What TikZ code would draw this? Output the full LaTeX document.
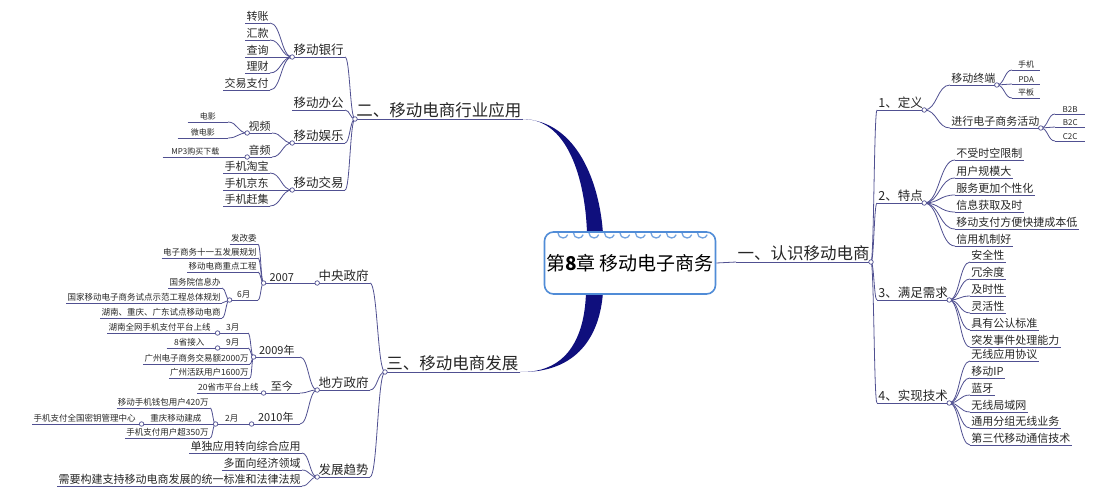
\documentclass[tikz,border=0pt]{standalone}
\usepackage{fontspec}
\setmainfont{Noto Sans CJK SC}
\usetikzlibrary{calc}
\definecolor{lc}{RGB}{80,80,145}
\definecolor{nv}{RGB}{15,15,125}
\definecolor{bx}{RGB}{80,140,215}
\tikzset{ul/.style={draw=lc,line width=0.8pt}, link/.style={draw=lc,line width=0.8pt},
 t/.style={inner sep=1.2pt,text=black!85},
 fa/.style={t,font=\fontsize{16.5}{18}\selectfont},
 fb/.style={t,font=\fontsize{12.5}{14}\selectfont},
 fc/.style={t,font=\fontsize{11}{13}\selectfont},
 fd/.style={t,font=\fontsize{8.5}{10}\selectfont},
 fe/.style={t,font=\fontsize{8}{9}\selectfont},
 jc/.style={circle,draw=lc,fill=white,inner sep=0pt,minimum size=4.5pt,line width=0.7pt}}
\newcommand\Ln[5]{\node[#5,anchor=south east] (#1) at (#2,#3) {#4}; \draw[ul] (#1.south west) -- (#1.south east);}
\newcommand\Rn[5]{\node[#5,anchor=south west] (#1) at (#2,#3) {#4}; \draw[ul] (#1.south west) -- (#1.south east);}
\newcommand\conn[2]{\draw[link] let \p1=(#1),\p2=(#2) in (\p1) .. controls ({(\x1+\x2)/2},\y1) and ({(\x1+\x2)/2},\y2) .. (\p2);}
\newcommand\RC[2]{\foreach \c in {#2}{\conn{#1.south east}{\c.south west}}}
\newcommand\LC[2]{\foreach \c in {#2}{\conn{#1.south west}{\c.south east}}}
\begin{document}
\begin{tikzpicture}[x=1pt,y=-1pt]
\useasboundingbox (0,0) rectangle (1097,500);
\fill[white] (0,0) rectangle (1097,500);
% right side
\Ln{A}{871}{262}{一、认识移动电商}{fa}
\Rn{A1}{877}{110}{1、定义}{fb}
\Rn{A11}{950}{85}{移动终端}{fc}
\Rn{A111}{1012}{70}{手机}{fe,minimum width=28pt}
\Rn{A112}{1012}{84}{PDA}{fe,minimum width=28pt}
\Rn{A113}{1012}{98}{平板}{fe,minimum width=28pt}
\Rn{A12}{950}{128}{进行电子商务活动}{fc}
\Rn{A121}{1055}{114}{B2B}{fe,minimum width=30pt}
\Rn{A122}{1055}{127}{B2C}{fe,minimum width=30pt}
\Rn{A123}{1055}{141}{C2C}{fe,minimum width=30pt}
\Rn{A2}{877}{203}{2、特点}{fb}
\Rn{A21}{955}{160}{不受时空限制}{fc}
\Rn{A22}{955}{178}{用户规模大}{fc}
\Rn{A23}{955}{195}{服务更加个性化}{fc}
\Rn{A24}{955}{212}{信息获取及时}{fc}
\Rn{A25}{955}{229}{移动支付方便快捷成本低}{fc}
\Rn{A26}{955}{246}{信用机制好}{fc}
\Rn{A3}{877}{300}{3、满足需求}{fb}
\Rn{A31}{970}{262}{安全性}{fc}
\Rn{A32}{970}{279}{冗余度}{fc}
\Rn{A33}{970}{296}{及时性}{fc}
\Rn{A34}{970}{313}{灵活性}{fc}
\Rn{A35}{970}{330}{具有公认标准}{fc}
\Rn{A36}{970}{347}{突发事件处理能力}{fc}
\Rn{A4}{877}{403}{4、实现技术}{fb}
\Rn{A41}{970}{361}{无线应用协议}{fc}
\Rn{A42}{970}{378}{移动IP}{fc}
\Rn{A43}{970}{395}{蓝牙}{fc}
\Rn{A44}{970}{412}{无线局域网}{fc}
\Rn{A45}{970}{428}{通用分组无线业务}{fc}
\Rn{A46}{970}{445}{第三代移动通信技术}{fc}
\RC{A}{A1,A2,A3,A4}
\RC{A1}{A11,A12}
\RC{A11}{A111,A112,A113}
\RC{A12}{A121,A122,A123}
\RC{A2}{A21,A22,A23,A24,A25,A26}
\RC{A3}{A31,A32,A33,A34,A35,A36}
\RC{A4}{A41,A42,A43,A44,A45,A46}
% left top
\Rn{B}{355}{119}{二、移动电商行业应用}{fa}
\Ln{B1}{345}{57}{移动银行}{fb}
\Ln{B2}{345}{110}{移动办公}{fb}
\Ln{B3}{345}{143}{移动娱乐}{fb}
\Ln{B4}{345}{190}{移动交易}{fb}
\Ln{B11}{270}{23}{转账}{fc}
\Ln{B12}{270}{40}{汇款}{fc}
\Ln{B13}{270}{57}{查询}{fc}
\Ln{B14}{270}{73}{理财}{fc}
\Ln{B15}{270}{90}{交易支付}{fc}
\Ln{B31}{272}{133}{视频}{fc}
\Ln{B32}{272}{157}{音频}{fc}
\Ln{B311}{228}{122}{电影}{fe,minimum width=40pt}
\Ln{B312}{228}{138}{微电影}{fe,minimum width=50pt}
\Ln{B321}{228}{157}{MP3购买下载}{fe,minimum width=65pt}
\Ln{B41}{270}{173}{手机淘宝}{fc}
\Ln{B42}{270}{190}{手机京东}{fc}
\Ln{B43}{270}{206}{手机赶集}{fc}
\LC{B}{B1,B2,B3,B4}
\LC{B1}{B11,B12,B13,B14,B15}
\LC{B3}{B31,B32}
\LC{B31}{B311,B312}
\LC{B32}{B321}
\LC{B4}{B41,B42,B43}
% left bottom
\Rn{C}{385}{372}{三、移动电商发展}{fa}
\Ln{C1}{370}{283}{中央政府}{fb}
\Ln{C2}{370}{390}{地方政府}{fb}
\Ln{C3}{370}{477}{发展趋势}{fb}
\Ln{C11}{300}{283}{2007}{fc,minimum width=36pt}
\Ln{C111}{258}{244}{发改委}{fd}
\Ln{C112}{258}{258}{电子商务十一五发展规划}{fd}
\Ln{C113}{258}{272}{移动电商重点工程}{fd}
\Ln{C114}{258}{300}{6月}{fd,minimum width=28pt}
\Ln{C1141}{222}{288}{国务院信息办}{fd}
\Ln{C1142}{222}{303}{国家移动电子商务试点示范工程总体规划}{fd}
\Ln{C1143}{222}{318}{湖南、重庆、广东试点移动电商}{fd}
\Ln{C21}{300}{357}{2009年}{fc,minimum width=46pt}
\Ln{C211}{248}{333}{3月}{fd,minimum width=30pt}
\Ln{C212}{248}{348}{9月}{fd,minimum width=30pt}
\Ln{C213}{250}{364}{广州电子商务交易额2000万}{fd}
\Ln{C214}{250}{378}{广州活跃用户1600万}{fd}
\Ln{C2111}{212}{333}{湖南全网手机支付平台上线}{fd}
\Ln{C2121}{212}{348}{8省接入}{fd,minimum width=45pt}
\Ln{C22}{300}{393}{至今}{fc,minimum width=36pt}
\Ln{C221}{260}{393}{20省市平台上线}{fd}
\Ln{C23}{300}{424}{2010年}{fc,minimum width=48pt}
\Ln{C231}{248}{424}{2月}{fd,minimum width=32pt}
\Ln{C2311}{210}{408}{移动手机钱包用户420万}{fd}
\Ln{C2312}{210}{424}{重庆移动建成}{fd,minimum width=68pt}
\Ln{C2313}{210}{438}{手机支付用户超350万}{fd}
\Ln{C23121}{137}{424}{手机支付全国密钥管理中心}{fd}
\Ln{C31}{302}{453}{单独应用转向综合应用}{fc}
\Ln{C32}{302}{470}{多面向经济领域}{fc}
\Ln{C33}{302}{486}{需要构建支持移动电商发展的统一标准和法律法规}{fc}
\LC{C}{C1,C2,C3}
\LC{C1}{C11}
\LC{C11}{C111,C112,C113,C114}
\LC{C114}{C1141,C1142,C1143}
\LC{C2}{C21,C22,C23}
\LC{C21}{C211,C212,C213,C214}
\LC{C211}{C2111}
\LC{C212}{C2121}
\LC{C22}{C221}
\LC{C23}{C231}
\LC{C231}{C2311,C2312,C2313}
\LC{C2312}{C23121}
\LC{C3}{C31,C32,C33}
% thick links
\fill[nv] (B.south east) .. controls (572,119) and (586,190) .. (587,234) -- (603,234) .. controls (600,185) and (578,121) .. (B.south east) -- cycle;
\fill[nv] (C.south east) .. controls (572,373) and (585,330) .. (586,292) -- (603,292) .. controls (600,335) and (578,373) .. (C.south east) -- cycle;
% center box
\node[draw=bx,line width=1.6pt,rounded corners=9pt,fill=white,minimum width=171pt,minimum height=62pt,inner sep=1pt,font=\fontsize{19}{22}\selectfont] (box) at (630,263) {第\textbf{8}章 移动电子商务};
\foreach \i in {0,...,9} \draw[bx!80,line width=1.3pt] (558+\i*15.5,233) arc (180:20:5);
\draw[link] (box.east) -- (A.south west);
% junction circles
\foreach \n in {A,A1,A11,A12,A2,A3,A4} \node[jc] at (\n.south east) {};
\foreach \n in {B,B1,B3,B31,B32,B4,C,C1,C11,C114,C2,C21,C211,C212,C22,C23,C231,C2312,C3} \node[jc] at (\n.south west) {};
\end{tikzpicture}
\end{document}
